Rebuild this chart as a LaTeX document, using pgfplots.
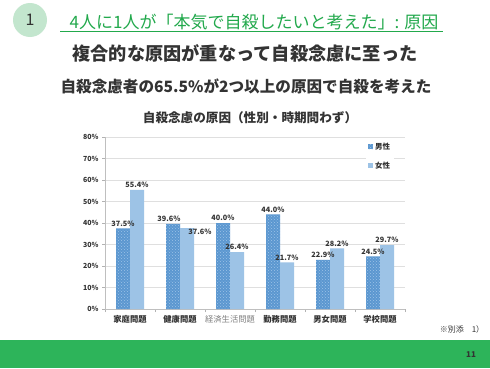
\documentclass[border=0pt]{standalone}
\usepackage{pgfplots}
\pgfplotsset{compat=1.18}
\usepackage{pgfplotstable}
\usetikzlibrary{patterns}
\usepackage{fontspec}
\setmainfont{Noto Sans CJK JP}
\definecolor{titlegreen}{HTML}{22A94C}
\definecolor{circfill}{HTML}{C3E6CE}
\definecolor{barfoot}{HTML}{2DB45A}
\definecolor{maleblue}{HTML}{5B97D0}
\definecolor{malepat}{HTML}{9EC4E8}
\definecolor{femblue}{HTML}{9DC3E6}
\definecolor{txt}{HTML}{333333}

\pgfplotstableread{
x y dx dy
0 37.5 0 0
1 39.6 -4 0
2 40.0 0 0
3 44.0 0 0
4 22.9 0 0
5 24.5 0 0
}\male
\pgfplotstableread{
x y dx dy
0 55.4 0 0
1 37.6 13 -9
2 26.4 0 0
3 21.7 0 0
4 28.2 0 0
5 29.7 0 0
}\female

\begin{document}
\begin{tikzpicture}
\path[use as bounding box] (0pt,0pt) rectangle (490pt,368pt);
\fill[white] (0pt,0pt) rectangle (490pt,368pt);
% header
\fill[circfill] (30pt,348pt) circle (17pt);
\node[text=txt, font=\fontsize{16}{18}\selectfont] at (30pt,348pt) {1};
\node[text=titlegreen, font=\fontsize{17}{20}\selectfont] at (254pt,346pt) {4人に1人が「本気で自殺したいと考えた」: 原因};
\draw[titlegreen, line width=1pt] (60pt,337pt) -- (443pt,337pt);
\node[text=txt, font=\fontsize{18.2}{21}\bfseries] at (245pt,315pt) {複合的な原因が重なって自殺念慮に至った};
\node[text=txt, font=\fontsize{15.6}{18}\bfseries] at (246pt,282pt) {自殺念慮者の65.5\%が2つ以上の原因で自殺を考えた};
\node[text=txt, font=\fontsize{12.6}{14}\bfseries] at (250pt,250pt) {自殺念慮の原因（性別・時期問わず）};
% footer
\node[text=txt, font=\fontsize{8}{10}\selectfont] at (462pt,39pt) {※別添　1）};
\fill[barfoot] (0pt,0pt) rectangle (490pt,28pt);
\node[text=txt, font=\fontsize{8}{10}\bfseries] at (471pt,13pt) {11};

\begin{axis}[
  at={(105pt,59pt)}, anchor=south west,
  scale only axis, width=300pt, height=172pt,
  ybar=0pt, bar width=14pt,
  xmin=-0.5, xmax=5.5, ymin=0, ymax=80,
  xtick={0,1,2,3,4,5},
  xticklabels={\textbf{家庭問題},\textbf{健康問題},{\color{gray}経済生活問題},\textbf{勤務問題},\textbf{男女問題},\textbf{学校問題}},
  minor xtick={-0.5,0.5,1.5,2.5,3.5,4.5,5.5},
  major x tick style={draw=none},
  minor x tick style={draw=gray!60},
  minor tick length=3pt,
  ytick={0,10,...,80},
  yticklabel={\pgfmathprintnumber{\tick}\%},
  /pgf/number format/assume math mode=true,
  ticklabel style={text=txt},
  x tick label style={font=\fontsize{8.3}{10}\selectfont},
  y tick label style={font=\fontsize{7}{8}\bfseries},
  tick align=outside,
  major tick length=3pt,
  y tick style={draw=gray!60},
  axis x line*=bottom, axis y line*=left,
  axis line style={draw=gray!50},
  ymajorgrids, grid style={draw=gray!25},
  point meta=y,
  nodes near coords={\pgfmathprintnumber[fixed,fixed zerofill,precision=1]{\pgfplotspointmeta}\%},
  visualization depends on={\thisrow{dx}\as\dx},
  visualization depends on={\thisrow{dy}\as\dy},
  every node near coord/.append style={font=\fontsize{7.3}{8}\bfseries, text=txt, xshift=\dx pt, yshift=\dy pt, inner sep=2pt},
  legend style={at={(rel axis cs:0.87,0.99)}, anchor=north west, draw=none, fill=white,
    font=\fontsize{7.5}{9}\bfseries, text=txt, row sep=7pt, inner sep=2pt},
  legend cell align=left,
  legend image code/.code={\fill[#1] (0pt,-2.5pt) rectangle (5pt,2.5pt);},
]
\addplot[draw=none, fill=maleblue, postaction={pattern=crosshatch dots, pattern color=malepat}] table[x=x,y=y] {\male};
\addplot[draw=none, fill=femblue] table[x=x,y=y] {\female};
\legend{男性,女性}
\end{axis}
\end{tikzpicture}
\end{document}
